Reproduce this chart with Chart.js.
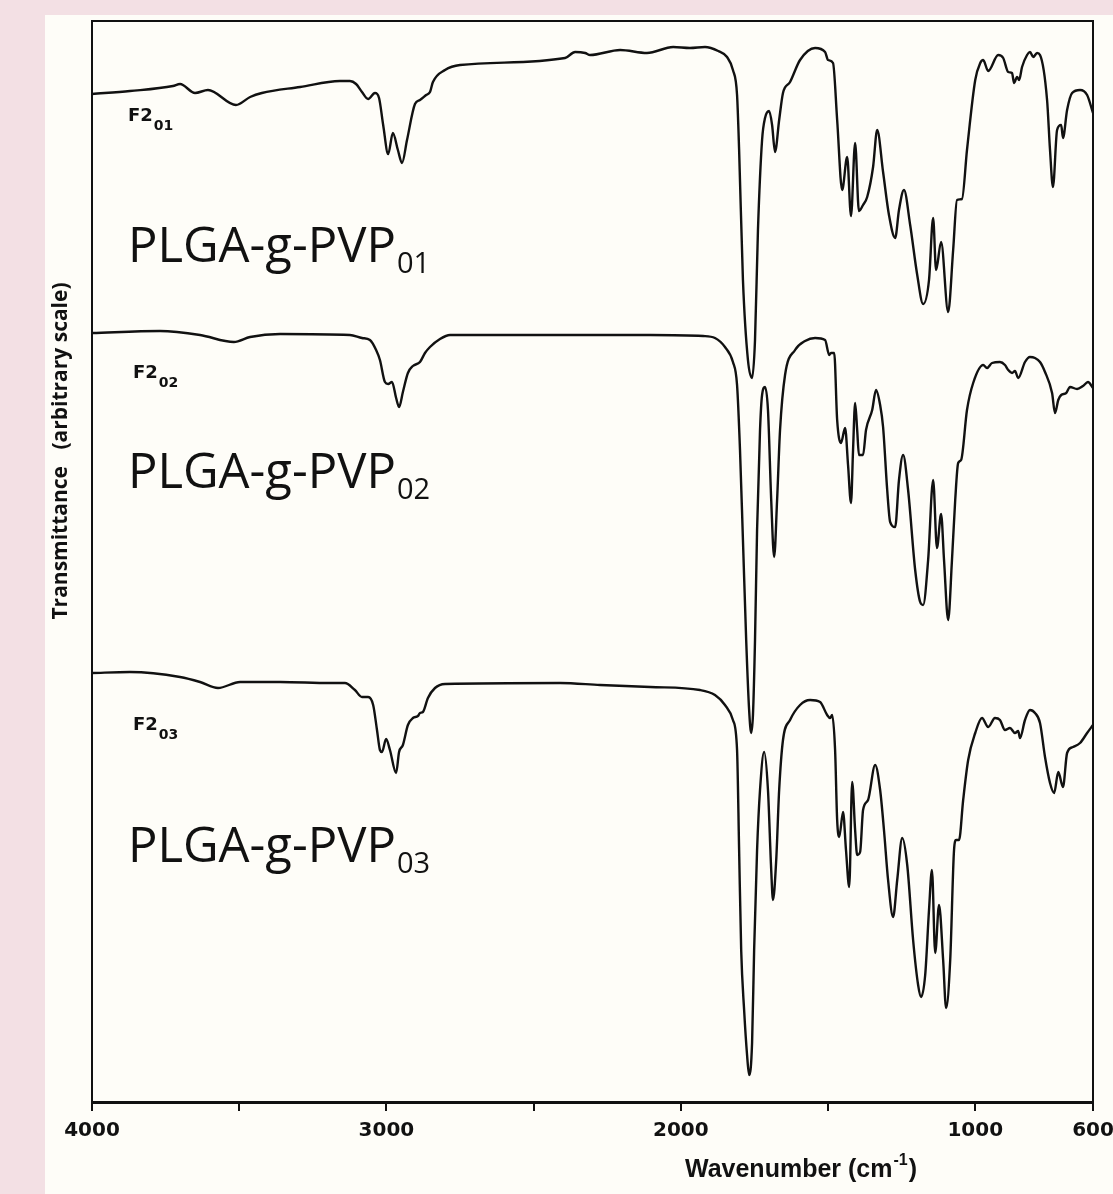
<!DOCTYPE html>
<html>
<head>
<meta charset="utf-8">
<script src="https://cdn.jsdelivr.net/npm/chart.js@4.4.1/dist/chart.umd.min.js"></script>
<style>
  html, body { margin: 0; padding: 0; }
  body { width: 1113px; height: 1194px; background: #f3e0e4; position: relative; overflow: hidden; }
  #panel { position: absolute; left: 45px; top: 15px; right: 0; bottom: 0; background: #fefdf8; }
  #chart { position: absolute; left: 0; top: 0; }
</style>
</head>
<body>
<div id="panel"></div>
<canvas id="chart" width="1113" height="1194"></canvas>
<script>
// x axis (cm-1), reversed
const tickValues = [4000, 3500, 3000, 2500, 2000, 1500, 1000, 600];
const labeledTicks = [4000, 3000, 2000, 1000, 600];

// F2_01 / PLGA-g-PVP01
const wn01 = [4000, 3871, 3725, 3701, 3650, 3606, 3511, 3463, 3423, 3293, 3158, 3124, 3103, 3083, 3062, 3039, 3025, 3011, 2994, 2978,
  2961, 2947, 2930, 2903, 2886, 2865, 2852, 2842, 2801, 2750, 2393, 2359, 2325, 2308, 2206, 2115, 2026, 1969, 1918, 1873,
  1843, 1823, 1809, 1802, 1789, 1772, 1758, 1748, 1738, 1724, 1714, 1700, 1690, 1680, 1666, 1653, 1629, 1595, 1544, 1510,
  1500, 1483, 1469, 1452, 1435, 1422, 1408, 1395, 1381, 1367, 1347, 1333, 1313, 1293, 1272, 1259, 1242, 1221, 1197, 1177,
  1157, 1143, 1133, 1116, 1092, 1075, 1062, 1045, 1028, 1000, 983, 973, 956, 922, 905, 888, 875, 868, 858, 851,
  841, 824, 814, 803, 790, 780, 756, 746, 736, 722, 708, 702, 688, 671, 644, 620, 600];
const t01 = [100.8, 101.1, 101.6, 101.8, 100.9, 101.2, 99.7, 100.5, 100.9, 101.5, 102.1, 102.1, 101.8, 101.0, 100.3, 100.9, 100.4, 97.7, 94.8, 96.9,
  95.2, 93.9, 96.2, 99.8, 100.2, 100.7, 101.0, 102.0, 103.2, 103.7, 104.4, 105.0, 104.9, 104.7, 105.2, 104.9, 105.5, 105.4, 105.5, 105.1,
  104.5, 103.2, 100.7, 95.2, 82.2, 74.2, 72.4, 76.2, 87.2, 96.2, 98.4, 99.1, 97.7, 95.0, 98.2, 100.9, 102.0, 104.2, 105.4, 105.0,
  104.2, 103.9, 98.2, 91.2, 94.5, 88.6, 95.9, 89.1, 89.7, 90.5, 93.5, 97.2, 93.0, 88.7, 86.4, 89.2, 91.2, 87.7, 82.7, 79.8,
  82.2, 88.4, 83.2, 86.0, 79.0, 85.2, 90.2, 90.3, 95.2, 102.2, 103.9, 104.2, 103.1, 104.7, 104.4, 103.0, 102.9, 101.9, 102.5, 102.2,
  103.5, 104.7, 105.0, 104.5, 104.9, 104.7, 100.2, 95.2, 91.5, 97.2, 97.7, 96.4, 99.2, 100.9, 101.2, 100.7, 98.9];

// F2_02 / PLGA-g-PVP02
const wn02 = [4000, 3769, 3633, 3518, 3463, 3361, 3124, 3083, 3056, 3035, 3022, 3005, 2994, 2981, 2967, 2957, 2944, 2927, 2910, 2886,
  2869, 2852, 2818, 2784, 2410, 2104, 1924, 1884, 1850, 1823, 1809, 1799, 1789, 1778, 1768, 1761, 1755, 1748, 1741, 1731,
  1724, 1714, 1704, 1693, 1683, 1673, 1663, 1646, 1612, 1578, 1544, 1510, 1496, 1490, 1479, 1469, 1456, 1442, 1432, 1422,
  1415, 1408, 1401, 1395, 1381, 1371, 1350, 1337, 1323, 1313, 1299, 1289, 1272, 1259, 1245, 1228, 1204, 1187, 1177, 1160,
  1143, 1130, 1116, 1106, 1092, 1079, 1068, 1058, 1048, 1028, 1007, 973, 960, 943, 916, 899, 888, 875, 865, 854,
  831, 814, 797, 780, 763, 739, 729, 718, 708, 691, 678, 654, 634, 617, 600];
const t02 = [76.9, 77.1, 76.7, 76.0, 76.5, 76.8, 76.7, 76.4, 76.2, 75.2, 74.2, 72.0, 71.8, 72.0, 70.4, 69.5, 71.0, 72.9, 73.6, 74.0,
  74.9, 75.5, 76.3, 76.7, 76.7, 76.7, 76.6, 76.4, 75.5, 74.0, 71.7, 65.2, 56.2, 46.2, 39.2, 36.9, 38.7, 46.2, 57.2, 67.2,
  70.7, 71.5, 69.2, 60.2, 54.5, 60.2, 67.2, 72.7, 75.2, 76.1, 76.4, 76.2, 74.7, 74.9, 74.9, 68.2, 65.9, 67.4, 63.7, 59.9,
  65.2, 69.9, 67.2, 64.7, 64.7, 67.2, 69.2, 71.2, 69.7, 67.5, 61.2, 58.0, 57.5, 62.2, 64.7, 61.2, 53.2, 50.0, 49.7, 54.2,
  62.2, 55.4, 58.8, 54.2, 48.2, 54.2, 60.2, 63.9, 64.2, 69.2, 71.9, 73.7, 73.4, 73.9, 74.0, 73.7, 73.2, 72.9, 73.1, 72.4,
  74.0, 74.5, 74.4, 74.0, 73.0, 70.9, 68.9, 70.2, 70.7, 70.9, 71.5, 71.3, 71.6, 72.0, 71.4];

// F2_03 / PLGA-g-PVP03
const wn03 = [4000, 3871, 3701, 3633, 3572, 3497, 3361, 3192, 3141, 3107, 3083, 3062, 3045, 3032, 3022, 3015, 3001, 2988, 2967, 2957,
  2944, 2927, 2910, 2893, 2886, 2876, 2859, 2835, 2801, 2410, 2274, 2104, 1935, 1884, 1850, 1823, 1809, 1802, 1795, 1785,
  1775, 1768, 1758, 1751, 1741, 1731, 1717, 1704, 1693, 1687, 1676, 1666, 1653, 1629, 1595, 1561, 1527, 1503, 1493, 1486,
  1476, 1469, 1462, 1449, 1439, 1428, 1418, 1408, 1401, 1391, 1381, 1364, 1340, 1323, 1310, 1296, 1279, 1265, 1248, 1231,
  1211, 1194, 1184, 1170, 1157, 1147, 1136, 1123, 1109, 1099, 1085, 1072, 1065, 1055, 1041, 1024, 1000, 977, 956, 933,
  916, 899, 882, 865, 854, 848, 831, 814, 797, 780, 763, 746, 732, 718, 702, 688, 668, 644, 620, 600];
const t03 = [42.9, 43.0, 42.5, 42.0, 41.4, 42.0, 42.0, 41.9, 41.9, 41.2, 40.5, 40.5, 39.7, 37.2, 35.2, 35.0, 36.3, 35.2, 32.9, 35.0,
  35.7, 37.7, 38.4, 38.6, 38.9, 39.0, 40.4, 41.4, 41.8, 41.9, 41.7, 41.5, 41.2, 40.7, 39.7, 38.2, 35.2, 25.2, 15.2, 9.2,
  4.7, 2.7, 5.9, 15.2, 25.2, 31.2, 35.0, 31.2, 23.2, 20.2, 24.2, 31.2, 36.2, 38.2, 39.7, 40.2, 40.0, 38.7, 38.4, 38.7,
  35.2, 28.2, 26.5, 29.0, 25.2, 21.5, 32.0, 27.2, 24.7, 25.0, 29.2, 30.2, 33.7, 31.2, 27.2, 22.2, 18.5, 22.2, 26.4, 23.7,
  16.2, 11.7, 10.5, 12.7, 19.2, 23.2, 14.9, 19.7, 14.2, 9.4, 14.2, 25.2, 26.2, 26.2, 30.2, 34.2, 36.9, 38.4, 37.5, 38.4,
  38.2, 37.2, 37.4, 36.9, 37.1, 36.4, 38.2, 39.2, 38.9, 37.9, 34.5, 31.9, 30.9, 33.0, 31.5, 34.9, 35.5, 35.9, 36.9, 37.7];

const sampleCodes = ['01', '02', '03'];
const sampleName = 'PLGA-g-PVP';
const traceName = 'F2';

// where the labels sit, in data units (wavenumber, transmittance)
const codeAnchors = [[3878, 98.1], [3861, 72.4], [3861, 37.2]];
const nameAnchors = [[3878, 84.0], [3878, 61.4], [3878, 24.0]];

const toPoints = (xs, ys) => xs.map((v, i) => ({ x: v, y: ys[i] }));

function subText(ctx, x, y, main, sub, mainFont, subFont, drop, gap) {
  ctx.font = mainFont;
  ctx.fillText(main, x, y);
  const w = ctx.measureText(main).width;
  ctx.font = subFont;
  ctx.fillText(sub, x + w + gap, y + drop);
}

const decor = {
  id: 'decor',
  afterDraw(chart) {
    const { ctx, chartArea: a, scales: { x, y } } = chart;
    ctx.save();
    ctx.strokeStyle = '#111';
    ctx.lineWidth = 2;
    ctx.beginPath();
    ctx.moveTo(a.left, a.bottom);
    ctx.lineTo(a.left, a.top);
    ctx.lineTo(a.right, a.top);
    ctx.lineTo(a.right, a.bottom);
    ctx.stroke();

    ctx.fillStyle = '#111';
    ctx.textAlign = 'left';
    ctx.textBaseline = 'alphabetic';
    sampleCodes.forEach((code, i) => {
      const [cx, cy] = codeAnchors[i];
      subText(ctx, x.getPixelForValue(cx), y.getPixelForValue(cy), traceName, code,
        'bold 18px "DejaVu Sans"', 'bold 14px "DejaVu Sans"', 9, 1);
      const [nx, ny] = nameAnchors[i];
      subText(ctx, x.getPixelForValue(nx), y.getPixelForValue(ny), sampleName, code,
        '49px "Open Sans"', '29px "Open Sans"', 11, 1);
    });

    // axis titles
    ctx.fillStyle = '#111';
    ctx.textBaseline = 'middle';
    ctx.font = 'bold 25px "Liberation Sans"';
    const p1 = 'Wavenumber (cm', p2 = '-1', p3 = ')';
    const w1 = ctx.measureText(p1).width, w3 = ctx.measureText(p3).width;
    ctx.font = 'bold 16px "Liberation Sans"';
    const w2 = ctx.measureText(p2).width;
    const tx = 800 - (w1 + w2 + w3) / 2;
    const ty = 1170;
    ctx.font = 'bold 25px "Liberation Sans"';
    ctx.fillText(p1, tx, ty);
    ctx.font = 'bold 16px "Liberation Sans"';
    ctx.fillText(p2, tx + w1 + 1, ty - 9);
    ctx.font = 'bold 25px "Liberation Sans"';
    ctx.fillText(p3, tx + w1 + w2 + 2, ty);

    ctx.translate(61, 451);
    ctx.rotate(-Math.PI / 2);
    ctx.textAlign = 'center';
    ctx.font = 'bold 21px "Open Sans"';
    ctx.fillText('Transmittance   (arbitrary scale)', 0, 0);
    ctx.restore();
  }
};

new Chart(document.getElementById('chart'), {
  type: 'line',
  data: {
    datasets: [
      { data: toPoints(wn01, t01) },
      { data: toPoints(wn02, t02) },
      { data: toPoints(wn03, t03) }
    ].map(d => Object.assign(d, {
      borderColor: '#111',
      borderWidth: 2.4,
      pointRadius: 0,
      fill: false,
      cubicInterpolationMode: 'monotone'
    }))
  },
  options: {
    responsive: false,
    animation: false,
    layout: { padding: { left: 92, right: 20, top: 21, bottom: 43 } },
    plugins: { legend: { display: false }, tooltip: { enabled: false } },
    scales: {
      x: {
        type: 'linear',
        reverse: true,
        min: 600,
        max: 4000,
        afterBuildTicks: s => { s.ticks = tickValues.map(v => ({ value: v })); },
        afterFit: s => { s.paddingLeft = 0; s.paddingRight = 0; },
        ticks: {
          autoSkip: false,
          maxRotation: 0,
          padding: 8,
          color: '#111',
          font: { family: 'DejaVu Sans', weight: 'bold', size: 20 },
          callback: v => (labeledTicks.includes(v) ? String(v) : '')
        },
        grid: { drawOnChartArea: false, drawTicks: true, tickLength: 9, color: '#111', lineWidth: 2 },
        border: { display: true, color: '#111', width: 3 }
      },
      y: {
        display: false,
        min: 0,
        max: 108.1
      }
    }
  },
  plugins: [decor]
});
</script>
</body>
</html>
